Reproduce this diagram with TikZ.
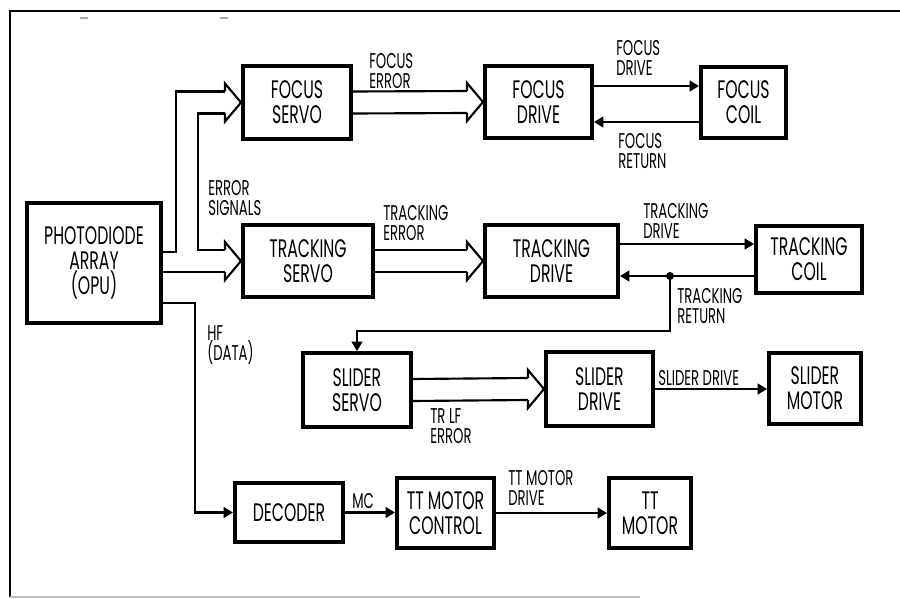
\documentclass[tikz,border=0pt]{standalone}
\usepackage{fontspec}
\setmainfont{Poppins}[FakeStretch=0.62]
\usetikzlibrary{arrows.meta,calc}
\begin{document}
\begin{tikzpicture}[x=0.75pt,y=-0.75pt,
 blk/.style={draw,line width=3pt,align=center,inner sep=0pt,font=\fontsize{19}{18.75}\selectfont},
 lbl/.style={anchor=north west,align=left,inner sep=0pt,font=\fontsize{16}{15}\selectfont},
 con/.style={line width=1.6pt},
 arr/.style={con,-{Triangle[length=7pt,width=8pt]}},
 hol/.style={con,line join=miter}]
\useasboundingbox (0,0) rectangle (900,599);
% frame
\draw[line width=1.5pt] (10,597) -- (10,11);
\draw[line width=2.2pt] (9,11) -- (900,11);
\draw[gray!50,line width=1.5pt] (10,597) -- (640,597);
\draw[gray!70,line width=1pt] (80,18) -- (88,18) (220,18) -- (228,18);
% blocks
\node[blk,minimum width=100.5pt,minimum height=90pt] (pd) at (94,263) {PHOTODIODE\\ARRAY\\(OPU)};
\node[blk,minimum width=81pt,minimum height=54.75pt] (fs) at (297,102.5) {FOCUS\\SERVO};
\node[blk,minimum width=97.5pt,minimum height=54pt] (ts) at (308,261) {TRACKING\\SERVO};
\node[blk,minimum width=80.25pt,minimum height=54pt] (fd) at (538.5,102) {FOCUS\\DRIVE};
\node[blk,minimum width=63.75pt,minimum height=53.25pt] (fc) at (743.5,102.5) {FOCUS\\COIL};
\node[blk,minimum width=99.75pt,minimum height=54pt] (td) at (551.5,261) {TRACKING\\DRIVE};
\node[blk,minimum width=79.5pt,minimum height=50.25pt] (tc) at (809,259.5) {TRACKING\\COIL};
\node[blk,minimum width=81pt,minimum height=55.5pt] (ss) at (357,390) {SLIDER\\SERVO};
\node[blk,minimum width=80.25pt,minimum height=55.5pt] (sd) at (599.5,389) {SLIDER\\DRIVE};
\node[blk,minimum width=69pt,minimum height=53.25pt] (sm) at (815,388.5) {SLIDER\\MOTOR};
\node[blk,minimum width=81pt,minimum height=44.25pt] (dec) at (289,512.5) {DECODER};
\node[blk,minimum width=72.75pt,minimum height=52.5pt] (tmc) at (445.5,513) {TT MOTOR\\CONTROL};
\node[blk,minimum width=61.5pt,minimum height=52.5pt] (tm) at (650,513) {TT\\MOTOR};
% hollow arrow heads
\newcommand\hollowhead[1]{\draw[hol] ($(#1)+(-16,-11)$) -- ($(#1)+(-16,-19)$) -- (#1) -- ($(#1)+(-16,19)$) -- ($(#1)+(-16,11)$);}
\hollowhead{fs.west}
\hollowhead{ts.west}
\hollowhead{fd.west}
\hollowhead{td.west}
\hollowhead{sd.west}
% inputs to servos
\draw[con] (pd.east |- 0,252) -| ($(fs.west)+(-65,-11)$) -- ($(fs.west)+(-16,-11)$);
\draw[con] ($(fs.west)+(-16,11)$) -| ($(ts.west)+(-43,-11)$) -- ($(ts.west)+(-16,-11)$);
\draw[con] (pd.east |- 0,272) -- ($(ts.west)+(-16,11)$);
% servo to drive (double lines)
\draw[con] ($(fs.east)+(0,-11)$) -- ($(fd.west)+(-16,-11)$);
\draw[con] ($(fs.east)+(0,11)$) -- ($(fd.west)+(-16,11)$);
\draw[con] ($(ts.east)+(0,-11)$) -- ($(td.west)+(-16,-11)$);
\draw[con] ($(ts.east)+(0,11)$) -- ($(td.west)+(-16,11)$);
\draw[con] ($(ss.east)+(0,-11)$) -- ($(sd.west)+(-16,-11)$);
\draw[con] ($(ss.east)+(0,11)$) -- ($(sd.west)+(-16,11)$);
% drive / coil
\coordinate (fdo) at ($(fd.east)+(0,-16)$);
\draw[arr] (fdo) -- (fc.west |- fdo);
\coordinate (fci) at ($(fc.west)+(0,19.5)$);
\draw[arr] (fci) -- (fd.east |- fci);
\coordinate (tdo) at ($(td.east)+(0,-17)$);
\draw[arr] (tdo) -- (tc.west |- tdo);
\coordinate (tci) at ($(tc.west)+(0,16.5)$);
\draw[arr] (tci) -- (td.east |- tci);
\coordinate (jn) at (670,276);
\fill (jn) circle (3pt);
\draw[arr] (jn) -- (670,331) -| (ss.north);
\draw[arr] (sd.east) -- (sd.east -| sm.west);
% data path
\draw[arr] (pd.east |- 0,303) -- (195,303) |- (dec.west);
\draw[arr] (dec.east) -- (dec.east -| tmc.west);
\draw[arr] (tmc.east) -- (tmc.east -| tm.west);
% labels
\node[lbl] (l1) at (369,53) {FOCUS\\ERROR};
\node[lbl] (l2) at (616,40) {FOCUS\\DRIVE};
\node[lbl] (l3) at (618,133) {FOCUS\\RETURN};
\node[lbl] (l4) at (208,180) {ERROR\\SIGNALS};
\node[lbl] (l5) at (383,205) {TRACKING\\ERROR};
\node[lbl] (l6) at (643,203) {TRACKING\\DRIVE};
\node[lbl] (l7) at (677,288) {TRACKING\\RETURN};
\node[lbl] (l8) at (207,325) {HF\\(DATA)};
\node[lbl] (l9) at (430,408) {TR LF\\ERROR};
\node[lbl] (l10) at (658,370) {SLIDER DRIVE};
\node[lbl] (l11) at (352,493) {MC};
\node[lbl] (l12) at (508,470) {TT MOTOR\\DRIVE};
\end{tikzpicture}
\end{document}
